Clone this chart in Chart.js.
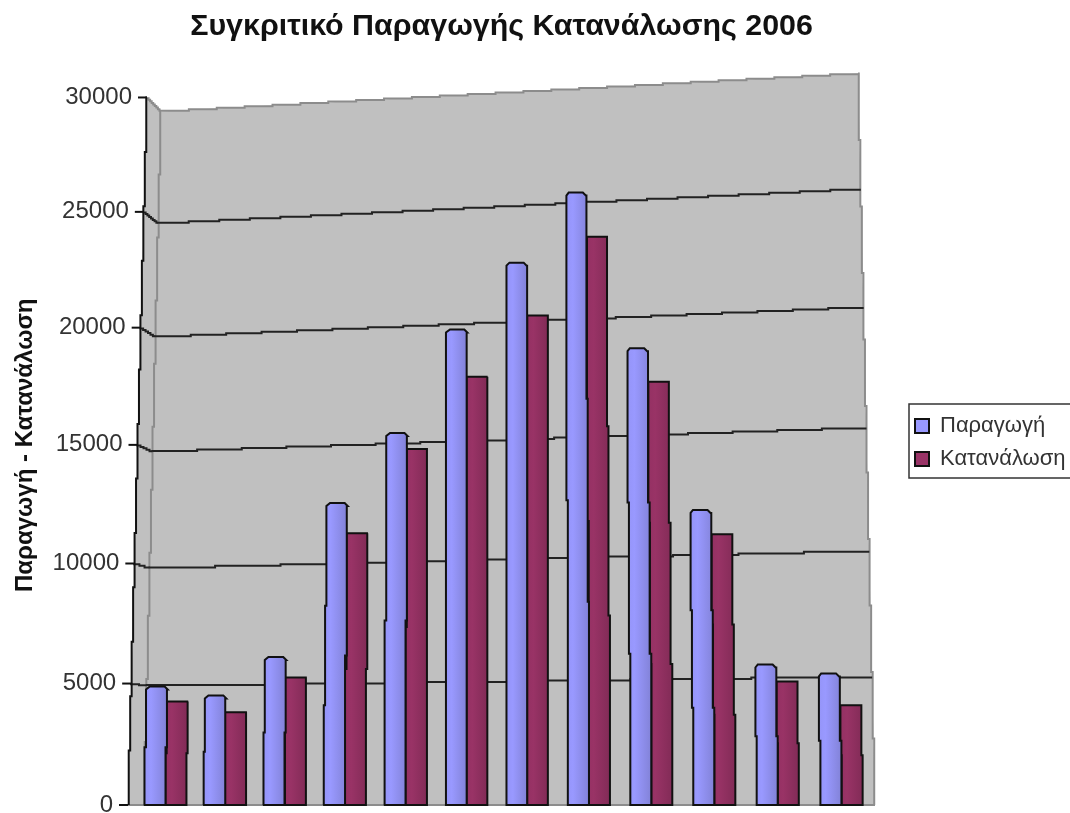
<!DOCTYPE html>
<html lang="el">
<head>
<meta charset="utf-8">
<title>Συγκριτικό Παραγωγής Κατανάλωσης 2006</title>
<style>
  html, body { margin: 0; padding: 0; background: #fff; }
  canvas { display: block; }
</style>
<script src="https://cdn.jsdelivr.net/npm/chart.js@4/dist/chart.umd.js"></script>
</head>
<body>
<canvas id="chart" width="1070" height="813"></canvas>
<script>
// Monthly figures for 2006
const months = ['Ιαν', 'Φεβ', 'Μαρ', 'Απρ', 'Μαϊ', 'Ιουν', 'Ιουλ', 'Αυγ', 'Σεπ', 'Οκτ', 'Νοε', 'Δεκ'];
const production = [4880, 4510, 6100, 12540, 15500, 19920, 22800, 25840, 19120, 12250, 5790, 5420];
const consumption = [4260, 3810, 5250, 11270, 14830, 17900, 20520, 23920, 17690, 11230, 5080, 4100];
const yTicks = [0, 5000, 10000, 15000, 20000, 25000, 30000];

const titleText = 'Συγκριτικό Παραγωγής Κατανάλωσης 2006';
const yTitleText = 'Παραγωγή - Κατανάλωση';
const seriesNames = ['Παραγωγή', 'Κατανάλωση'];

const FONT = '"Liberation Sans", Arial, sans-serif';
const Y_MAX = 30000;

// Projection of the 3D box: how the axis, wall corners and bars shift with height.
const depth = { compress: 0.036, converge: 0.052, vanishX: 505, spread: 0.224 };
const frac = v => v / Y_MAX;
const axisX = (area, t) => area.left - 6 + 19 * t;
const backLeftX = (area, t) => area.left + 10 + 17 * t;
const backRightX = (area, t) => area.right + 2 - 17 * t;
const backLeftY = (y, t) => y + 14 * t;
const backRightY = (y, t) => y - 24 * t - 20 * t * (1 - t);

// Old raster renderers draw slanted lines as short stepped runs.
const STEP = 1.5;
function stepTo(ctx, x0, y0, x1, y1) {
  const dx = x1 - x0, dy = y1 - y0;
  if (Math.abs(dx) >= Math.abs(dy)) {
    const n = Math.max(1, Math.round(Math.abs(dy) / STEP));
    for (let i = 0; i < n; i++) {
      const y = y0 + dy * (i + 0.5) / n;
      ctx.lineTo(x0 + dx * i / n, y);
      ctx.lineTo(x0 + dx * (i + 1) / n, y);
    }
  } else {
    const n = Math.max(1, Math.round(Math.abs(dx) / STEP));
    for (let i = 0; i < n; i++) {
      const x = x0 + dx * (i + 0.5) / n;
      ctx.lineTo(x, y0 + dy * i / n);
      ctx.lineTo(x, y0 + dy * (i + 1) / n);
    }
  }
}
function stepLine(ctx, x0, y0, x1, y1) {
  ctx.beginPath();
  ctx.moveTo(x0, y0);
  stepTo(ctx, x0, y0, x1, y1);
  ctx.stroke();
}

function shade(hex, k) {
  const n = parseInt(hex.slice(1), 16);
  const c = s => Math.round(((n >> s) & 255) * k);
  return `rgb(${c(16)},${c(8)},${c(0)})`;
}

// Value axis whose spacing tightens slightly towards the top of the box.
class PerspectiveScale extends Chart.LinearScale {
  static id = 'perspectiveLinear';
  static defaults = Chart.LinearScale.defaults;
  getPixelForValue(value) {
    const t = frac(value);
    return this.bottom - t * (1 + depth.compress * (1 - t)) * (this.bottom - this.top);
  }
  _computeLabelItems(chartArea) {
    const items = super._computeLabelItems(chartArea);
    items.forEach((item, i) => {
      const t = frac(this.ticks[i].value);
      item.options.translation[0] = axisX(this.chart.chartArea, t) - 15;
    });
    return items;
  }
  drawTitle() {
    // the axis title sits a little above the middle of the axis
    this.ctx.save();
    this.ctx.translate(0, -6);
    super.drawTitle();
    this.ctx.restore();
  }
}

// Month axis: groups sit closer together on the left, further apart on the right.
class PerspectiveCategoryScale extends Chart.CategoryScale {
  static id = 'perspectiveCategory';
  static defaults = Chart.CategoryScale.defaults;
  getPixelForValue(value) {
    const i = typeof value === 'number' ? value : this.parse(value);
    const last = months.length - 1;
    return super.getPixelForValue(i) - depth.spread * i * (last - i);
  }
}

// Column that narrows towards the vanishing point, with stepped sides.
class PerspectiveBar extends Chart.BarElement {
  static id = 'perspectiveBar';
  static defaults = Chart.BarElement.defaults;
  draw(ctx) {
    const { x, y, base, width } = this.getProps(['x', 'y', 'base', 'width']);
    const { backgroundColor, borderColor, borderWidth } = this.options;
    const radius = +this.options.borderRadius || 0;
    const t = this.heightFraction;
    const lean = px => depth.vanishX + (px - depth.vanishX) * (1 - depth.converge * t);
    const xl0 = x - width / 2, xr0 = x + width / 2;
    const xl1 = lean(xl0), xr1 = lean(xr0);

    const grad = ctx.createLinearGradient(Math.min(xl0, xl1), 0, Math.max(xr0, xr1), 0);
    grad.addColorStop(0, shade(backgroundColor, 0.97));
    grad.addColorStop(0.3, shade(backgroundColor, 1));
    grad.addColorStop(1, shade(backgroundColor, 0.84));

    ctx.save();
    ctx.beginPath();
    ctx.moveTo(xl0, base);
    stepTo(ctx, xl0, base, xl1, y + radius);
    ctx.lineTo(xl1 + radius, y);
    ctx.lineTo(xr1 - radius, y);
    ctx.lineTo(xr1, y + radius);
    stepTo(ctx, xr1, y + radius, xr0, base);
    ctx.closePath();
    ctx.fillStyle = grad;
    ctx.fill();
    ctx.strokeStyle = borderColor;
    ctx.lineWidth = borderWidth;
    ctx.stroke();
    ctx.restore();
  }
}
class PerspectiveBarController extends Chart.BarController {
  static id = 'perspectiveBarChart';
  static defaults = { ...Chart.BarController.defaults, dataElementType: 'perspectiveBar' };
  draw() {
    this._cachedMeta.data.forEach((bar, i) => {
      bar.heightFraction = frac(this.getParsed(i).y);
    });
    super.draw();
  }
}
Chart.register(PerspectiveScale, PerspectiveCategoryScale, PerspectiveBar, PerspectiveBarController);

// Walls, slanted gridlines, the leaning axis and its tick marks.
const boxPlugin = {
  id: 'box3d',
  beforeDatasetsDraw(chart) {
    const { ctx, chartArea: area } = chart;
    const scale = chart.scales.y;
    const yAt = v => scale.getPixelForValue(v);
    const yTop = yAt(Y_MAX), yBase = yAt(0);
    ctx.save();

    // side wall and back wall
    ctx.fillStyle = '#c0c0c0';
    ctx.beginPath();
    ctx.moveTo(axisX(area, 1), yTop);
    ctx.lineTo(backLeftX(area, 1), backLeftY(yTop, 1));
    ctx.lineTo(backRightX(area, 1), backRightY(yTop, 1));
    ctx.lineTo(backRightX(area, 0), yBase);
    ctx.lineTo(axisX(area, 0), yBase);
    ctx.closePath();
    ctx.fill();

    // wall outlines
    ctx.strokeStyle = '#8c8c8c';
    ctx.lineWidth = 2;
    stepLine(ctx, backLeftX(area, 1), backLeftY(yTop, 1), backLeftX(area, 0), yBase);
    stepLine(ctx, backLeftX(area, 1), backLeftY(yTop, 1), backRightX(area, 1), backRightY(yTop, 1));
    stepLine(ctx, backRightX(area, 1), backRightY(yTop, 1), backRightX(area, 0), yBase);
    stepLine(ctx, axisX(area, 1), yTop, backLeftX(area, 1), backLeftY(yTop, 1));
    stepLine(ctx, axisX(area, 0), yBase, backRightX(area, 0), yBase);

    // gridlines run along the side wall, then across the back wall
    ctx.strokeStyle = '#222';
    yTicks.forEach(v => {
      if (v === 0 || v === Y_MAX) return;
      const t = frac(v), y = yAt(v);
      stepLine(ctx, axisX(area, t), y, backLeftX(area, t), backLeftY(y, t));
      stepLine(ctx, backLeftX(area, t), backLeftY(y, t), backRightX(area, t), backRightY(y, t));
    });

    // value axis with outward tick marks
    ctx.strokeStyle = '#111';
    stepLine(ctx, axisX(area, 1), yTop, axisX(area, 0), yBase);
    yTicks.forEach(v => {
      const t = frac(v), y = yAt(v);
      ctx.beginPath();
      ctx.moveTo(axisX(area, t) - 9, y);
      ctx.lineTo(axisX(area, t), y);
      ctx.stroke();
    });
    ctx.restore();
  }
};

// Places the legend in the right margin and frames it; also nudges the main title.
const legendFrame = { left: 909, top: 404, right: 1072, bottom: 478 };
const legendPlugin = {
  id: 'legendFrame',
  afterLayout(chart) {
    const lg = chart.legend;
    lg.left = legendFrame.left - 5;
    lg.right = legendFrame.right;
    lg.top = legendFrame.top;
    lg.bottom = legendFrame.bottom + 12;
    lg.width = lg.right - lg.left;
    lg.height = lg.bottom - lg.top;
    chart.titleBlock.left -= 2;
    chart.titleBlock.right -= 2;
  },
  afterDraw(chart) {
    const { ctx } = chart;
    const f = legendFrame;
    ctx.save();
    ctx.strokeStyle = '#333';
    ctx.lineWidth = 1.5;
    ctx.strokeRect(f.left, f.top, f.right - f.left, f.bottom - f.top);
    ctx.restore();
  }
};

new Chart(document.getElementById('chart'), {
  type: 'perspectiveBarChart',
  data: {
    labels: months,
    datasets: [
      { label: seriesNames[0], data: production, backgroundColor: '#9999ff', borderColor: '#111', borderWidth: 2, borderRadius: 3, clip: false },
      { label: seriesNames[1], data: consumption, backgroundColor: '#993366', borderColor: '#111', borderWidth: 2, clip: false }
    ]
  },
  options: {
    responsive: false,
    animation: false,
    layout: { padding: { left: 0, right: 197, top: 0, bottom: 8 } },
    categoryPercentage: 0.71,
    barPercentage: 1,
    scales: {
      x: { type: 'perspectiveCategory', display: false, offset: true },
      y: {
        type: 'perspectiveLinear',
        min: 0,
        max: Y_MAX,
        afterBuildTicks: s => { s.ticks = yTicks.map(value => ({ value })); },
        afterFit: s => { s.width = 134; s.paddingTop = 0; s.paddingBottom = 0; },
        grid: { display: false },
        border: { display: false },
        ticks: {
          font: { family: FONT, size: 24 },
          color: '#333',
          callback: v => String(v)
        },
        title: {
          display: true,
          text: yTitleText,
          font: { family: FONT, size: 24, weight: 'bold' },
          color: '#111',
          padding: { top: 11, bottom: 0 }
        }
      }
    },
    plugins: {
      title: {
        display: true,
        text: titleText,
        fullSize: false,
        font: { family: FONT, size: 30.4, weight: 'bold' },
        color: '#111',
        padding: { top: 8, bottom: 53 }
      },
      legend: {
        position: 'chartArea',
        align: 'start',
        labels: {
          font: { family: FONT, size: 22 },
          color: '#333',
          boxWidth: 14,
          boxHeight: 14,
          padding: 11
        }
      },
      tooltip: { enabled: false }
    }
  },
  plugins: [boxPlugin, legendPlugin]
});
</script>
</body>
</html>
